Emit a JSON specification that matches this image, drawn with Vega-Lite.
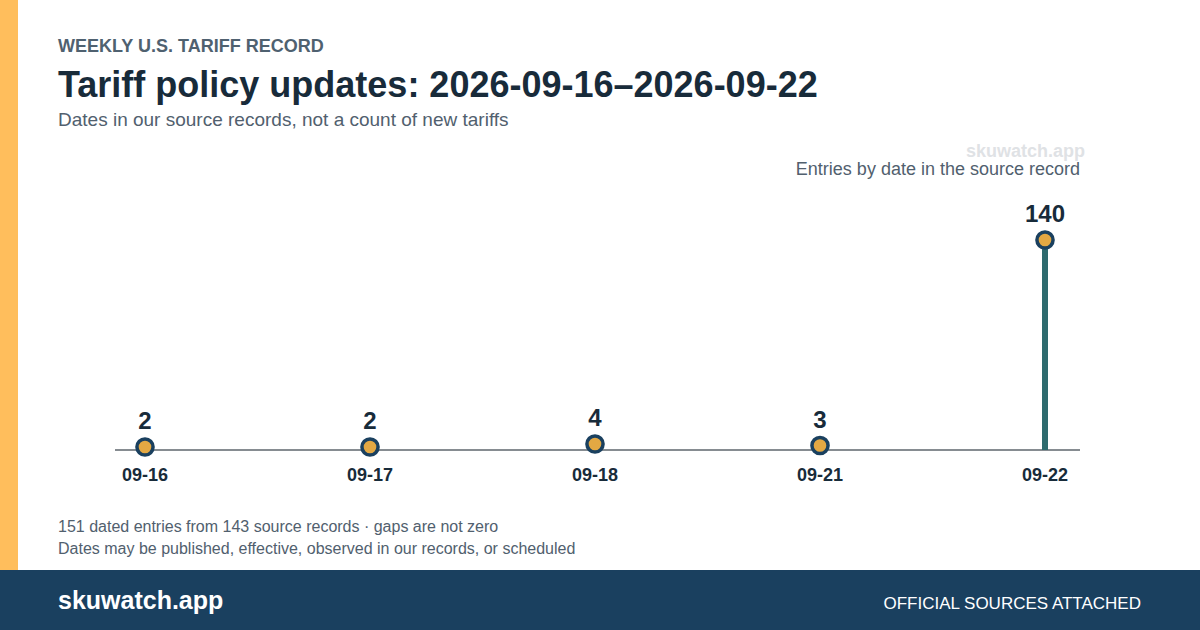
{
  "$schema": "https://vega.github.io/schema/vega-lite/v6.json",
  "width": 1200,
  "height": 630,
  "autosize": {"type": "fit", "contains": "padding"},
  "padding": 0,
  "background": "#ffffff",
  "config": {"view": {"stroke": null}, "font": "Liberation Sans"},
  "datasets": {
    "entries": [
      {"date": "09-16", "entries": 2},
      {"date": "09-17", "entries": 2},
      {"date": "09-18", "entries": 4},
      {"date": "09-21", "entries": 3},
      {"date": "09-22", "entries": 140}
    ],
    "one": [{}]
  },
  "layer": [
    {
      "data": {"name": "one"},
      "mark": {"type": "rect", "x": 0, "x2": 1200, "y": 570, "y2": 630, "fill": "#1a405f"},
      "encoding": {}
    },
    {
      "data": {"name": "one"},
      "mark": {"type": "rect", "x": 0, "x2": 18, "y": 0, "y2": 570, "fill": "#ffbe5c"},
      "encoding": {}
    },
    {
      "data": {"name": "one"},
      "mark": {"type": "text", "text": "WEEKLY U.S. TARIFF RECORD", "x": 58, "y": 52, "align": "left", "baseline": "alphabetic", "fontSize": 18, "fontWeight": "bold", "fill": "#4f6170"},
      "encoding": {}
    },
    {
      "data": {"name": "one"},
      "mark": {"type": "text", "text": "Tariff policy updates: 2026-09-16\u20132026-09-22", "x": 58, "y": 97, "align": "left", "baseline": "alphabetic", "fontSize": 36, "fontWeight": "bold", "fill": "#182b3a"},
      "encoding": {}
    },
    {
      "data": {"name": "one"},
      "mark": {"type": "text", "text": "Dates in our source records, not a count of new tariffs", "x": 58, "y": 126, "align": "left", "baseline": "alphabetic", "fontSize": 19, "fill": "#51606e"},
      "encoding": {}
    },
    {
      "data": {"name": "one"},
      "mark": {"type": "text", "text": "skuwatch.app", "x": 1085, "y": 157, "align": "right", "baseline": "alphabetic", "fontSize": 18, "fontWeight": "bold", "fill": "#dfe2e5"},
      "encoding": {}
    },
    {
      "data": {"name": "one"},
      "mark": {"type": "text", "text": "Entries by date in the source record", "x": 1080, "y": 175, "align": "right", "baseline": "alphabetic", "fontSize": 18, "fill": "#51606e"},
      "encoding": {}
    },
    {
      "data": {"name": "one"},
      "mark": {"type": "text", "text": "151 dated entries from 143 source records \u00b7 gaps are not zero", "x": 58, "y": 532, "align": "left", "baseline": "alphabetic", "fontSize": 16, "fill": "#51606e"},
      "encoding": {}
    },
    {
      "data": {"name": "one"},
      "mark": {"type": "text", "text": "Dates may be published, effective, observed in our records, or scheduled", "x": 58, "y": 554, "align": "left", "baseline": "alphabetic", "fontSize": 16, "fill": "#51606e"},
      "encoding": {}
    },
    {
      "data": {"name": "one"},
      "mark": {"type": "text", "text": "skuwatch.app", "x": 58, "y": 609, "align": "left", "baseline": "alphabetic", "fontSize": 25, "fontWeight": "bold", "fill": "#ffffff"},
      "encoding": {}
    },
    {
      "data": {"name": "one"},
      "mark": {"type": "text", "text": "OFFICIAL SOURCES ATTACHED", "x": 1141, "y": 609, "align": "right", "baseline": "alphabetic", "fontSize": 17, "fill": "#ffffff"},
      "encoding": {}
    },
    {
      "data": {"name": "one"},
      "mark": {"type": "rule", "x": 115, "x2": 1080, "stroke": "#868c91", "strokeWidth": 2},
      "encoding": {
        "y": {"datum": 0, "type": "quantitative", "scale": {"domain": [-120, 300]}, "axis": null}
      }
    },
    {
      "data": {"name": "entries"},
      "mark": {"type": "rule", "stroke": "#2e6b6e", "strokeWidth": 6},
      "encoding": {
        "x": {"field": "date", "type": "ordinal", "sort": null, "scale": {"type": "point", "range": [145, 1045], "padding": 0}, "axis": null},
        "y": {"field": "entries", "type": "quantitative", "scale": {"domain": [-120, 300]}, "axis": null},
        "y2": {"datum": 0}
      }
    },
    {
      "data": {"name": "entries"},
      "mark": {"type": "circle", "size": 260, "fill": "#e3a843", "stroke": "#1a405f", "strokeWidth": 3.5, "opacity": 1},
      "encoding": {
        "x": {"field": "date", "type": "ordinal", "sort": null, "scale": {"type": "point", "range": [145, 1045], "padding": 0}, "axis": null},
        "y": {"field": "entries", "type": "quantitative", "scale": {"domain": [-120, 300]}, "axis": null}
      }
    },
    {
      "data": {"name": "entries"},
      "mark": {"type": "text", "fontSize": 24, "fontWeight": "bold", "fill": "#182b3a", "baseline": "alphabetic", "dy": -18},
      "encoding": {
        "x": {"field": "date", "type": "ordinal", "sort": null, "scale": {"type": "point", "range": [145, 1045], "padding": 0}, "axis": null},
        "y": {"field": "entries", "type": "quantitative", "scale": {"domain": [-120, 300]}, "axis": null},
        "text": {"field": "entries", "type": "quantitative"}
      }
    },
    {
      "data": {"name": "entries"},
      "mark": {"type": "text", "fontSize": 18, "fontWeight": "bold", "fill": "#182b3a", "baseline": "alphabetic", "dy": 31},
      "encoding": {
        "x": {"field": "date", "type": "ordinal", "sort": null, "scale": {"type": "point", "range": [145, 1045], "padding": 0}, "axis": null},
        "y": {"datum": 0, "type": "quantitative", "scale": {"domain": [-120, 300]}, "axis": null},
        "text": {"field": "date", "type": "nominal"}
      }
    }
  ]
}
